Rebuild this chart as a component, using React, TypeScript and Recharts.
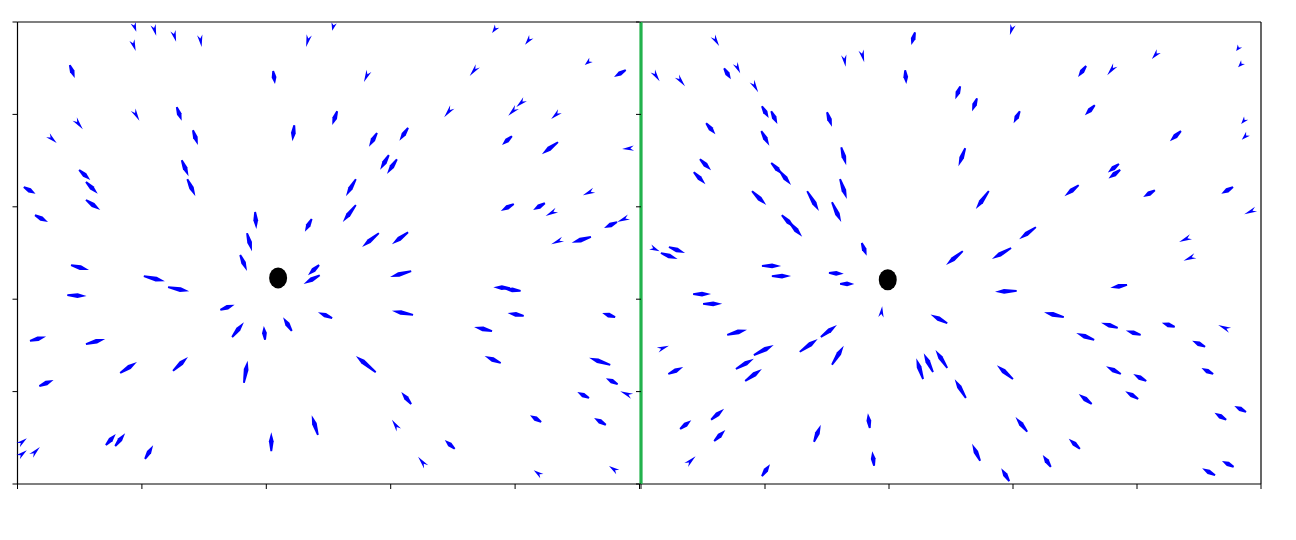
import React from 'react';
import { ScatterChart, Scatter, XAxis, YAxis, ReferenceLine } from 'recharts';

// Axis ticks (labels are blank in the reference)
const X_TICKS = [0, 2, 4, 6, 8, 10];
const Y_TICKS = [0, 2, 4, 6, 8, 10];

// Left panel: quiver arrows [x, y, u, v] (tail position and vector, data units)
const leftArrows: number[][] = [
  [1.86, 9.98, 0.05, -0.19], [1.84, 9.61, 0.06, -0.24], [2.18, 9.94, 0.05, -0.24], [2.5, 9.81, 0.05, -0.24],
  [2.93, 9.72, 0.03, -0.26], [0.84, 9.07, 0.08, -0.28], [1.86, 8.1, 0.1, -0.24], [2.56, 8.16, 0.08, -0.3],
  [0.92, 7.9, 0.13, -0.22], [0.49, 7.55, 0.14, -0.17], [2.82, 7.66, 0.08, -0.32], [2.64, 7.01, 0.11, -0.35],
  [2.73, 6.6, 0.13, -0.37], [0.99, 6.8, 0.18, -0.22], [1.1, 6.54, 0.19, -0.26], [1.1, 6.15, 0.23, -0.22],
  [0.1, 6.43, 0.19, -0.15], [0.28, 5.82, 0.21, -0.15], [0.86, 4.74, 0.29, -0.11], [0.8, 4.09, 0.31, -0.02],
  [2.03, 4.5, 0.34, -0.11], [2.42, 4.26, 0.34, -0.09], [3.26, 3.77, 0.23, 0.11], [0.2, 3.1, 0.26, 0.09],
  [1.1, 3.03, 0.31, 0.11], [1.65, 2.4, 0.27, 0.24], [2.5, 2.45, 0.24, 0.3], [0.35, 2.12, 0.23, 0.13],
  [0.01, 0.84, 0.14, 0.15], [0.01, 0.58, 0.14, 0.15], [0.22, 0.61, 0.14, 0.19], [1.42, 0.84, 0.16, 0.24],
  [1.57, 0.82, 0.16, 0.28], [2.05, 0.54, 0.13, 0.3], [5.09, 9.98, -0.03, -0.17], [4.69, 9.72, -0.05, -0.26],
  [4.11, 8.94, 0.03, -0.28], [5.65, 8.94, -0.08, -0.24], [5.14, 8.07, -0.08, -0.3], [4.45, 7.77, -0.03, -0.35],
  [5.78, 7.6, -0.13, -0.3], [6.28, 7.71, -0.14, -0.28], [5.97, 7.12, -0.14, -0.32], [6.1, 7.03, -0.16, -0.32],
  [5.44, 6.6, -0.16, -0.37], [5.44, 6.04, -0.21, -0.37], [5.81, 5.43, -0.27, -0.3], [6.28, 5.45, -0.26, -0.26],
  [3.82, 5.89, 0.02, -0.37], [4.73, 5.74, -0.11, -0.28], [3.69, 5.43, 0.08, -0.39], [3.58, 4.96, 0.11, -0.35],
  [4.85, 4.74, -0.18, -0.22], [4.86, 4.52, -0.26, -0.19], [6.33, 4.61, -0.34, -0.13], [5.06, 3.59, -0.23, 0.13],
  [6.36, 3.66, -0.34, 0.09], [3.45, 3.18, 0.19, 0.32], [4.41, 3.31, -0.14, 0.3], [3.98, 3.12, -0.02, 0.3],
  [3.64, 2.19, 0.06, 0.48], [5.76, 2.42, -0.32, 0.35], [6.33, 1.73, -0.16, 0.26], [4.83, 1.06, -0.1, 0.43],
  [6.13, 1.17, -0.11, 0.22], [4.08, 0.71, 0, 0.41], [6.57, 0.37, -0.13, 0.22], [7.71, 9.91, -0.08, -0.15],
  [8.26, 9.68, -0.1, -0.17], [7.4, 9.05, -0.13, -0.22], [9.22, 9.18, -0.1, -0.11], [9.78, 8.96, -0.19, -0.15],
  [6.99, 8.16, -0.13, -0.22], [8.16, 8.33, -0.14, -0.17], [8.03, 8.16, -0.14, -0.19], [8.72, 8.07, -0.14, -0.17],
  [7.95, 7.53, -0.16, -0.19], [8.69, 7.4, -0.26, -0.26], [9.91, 7.27, -0.19, -0.02], [9.27, 6.36, -0.18, -0.11],
  [7.98, 6.06, -0.21, -0.15], [8.48, 6.08, -0.19, -0.15], [8.67, 5.93, -0.18, -0.13], [9.64, 5.67, -0.21, -0.13],
  [9.83, 5.78, -0.19, -0.11], [8.77, 5.3, -0.19, -0.11], [9.22, 5.35, -0.31, -0.13], [7.92, 4.24, -0.27, 0.02],
  [8.09, 4.18, -0.27, 0.04], [8.14, 3.64, -0.26, 0.06], [9.61, 3.61, -0.21, 0.09], [7.63, 3.31, -0.29, 0.09],
  [7.77, 2.62, -0.26, 0.15], [9.53, 2.58, -0.34, 0.15], [9.65, 2.16, -0.19, 0.13], [9.88, 1.9, -0.19, 0.11],
  [9.19, 1.86, -0.19, 0.13], [8.42, 1.34, -0.18, 0.15], [9.46, 1.28, -0.19, 0.15], [7.03, 0.76, -0.16, 0.19],
  [8.43, 0.17, -0.13, 0.13], [9.65, 0.26, -0.14, 0.13],
];

// Right panel: quiver arrows [x, y, u, v]
const rightArrows: number[][] = [
  [1.16, 9.7, 0.1, -0.22], [0.19, 8.94, 0.11, -0.22], [0.58, 8.83, 0.13, -0.22], [1.34, 9.0, 0.11, -0.24],
  [1.52, 9.11, 0.08, -0.22], [1.79, 8.72, 0.1, -0.24], [3.27, 9.29, 0.03, -0.26], [1.95, 8.18, 0.11, -0.26],
  [2.1, 8.07, 0.1, -0.28], [3.0, 8.05, 0.08, -0.32], [1.05, 7.81, 0.15, -0.24], [1.94, 7.64, 0.13, -0.32],
  [3.23, 7.29, 0.08, -0.39], [0.95, 7.03, 0.18, -0.24], [0.85, 6.75, 0.19, -0.26], [2.1, 6.95, 0.19, -0.26],
  [2.24, 6.77, 0.18, -0.3], [3.21, 6.6, 0.11, -0.43], [1.79, 6.34, 0.23, -0.3], [2.68, 6.34, 0.19, -0.43],
  [3.08, 6.1, 0.15, -0.43], [2.27, 5.82, 0.21, -0.28], [2.39, 5.67, 0.21, -0.32], [0.15, 5.13, 0.15, -0.09],
  [0.45, 5.13, 0.26, -0.13], [0.32, 5.0, 0.27, -0.13], [1.95, 4.72, 0.31, 0], [2.11, 4.5, 0.31, 0],
  [3.03, 4.57, 0.24, -0.02], [3.21, 4.33, 0.23, 0], [0.84, 4.11, 0.29, 0], [1.0, 3.9, 0.31, 0],
  [1.39, 3.23, 0.32, 0.11], [0.27, 2.9, 0.18, 0.09], [0.44, 2.38, 0.24, 0.15], [1.82, 2.79, 0.32, 0.22],
  [1.53, 2.49, 0.29, 0.22], [1.68, 2.23, 0.27, 0.26], [2.56, 2.86, 0.29, 0.28], [2.9, 3.18, 0.26, 0.26],
  [3.08, 2.58, 0.19, 0.41], [0.63, 1.19, 0.18, 0.19], [1.13, 1.39, 0.21, 0.24], [1.18, 0.93, 0.18, 0.24],
  [0.73, 0.41, 0.15, 0.19], [2.79, 0.91, 0.11, 0.37], [1.95, 0.17, 0.13, 0.26], [6.0, 9.94, -0.05, -0.22],
  [4.42, 9.78, -0.06, -0.28], [3.55, 9.39, 0.05, -0.26], [4.26, 8.96, 0.02, -0.3], [5.15, 8.61, -0.08, -0.28],
  [5.42, 8.35, -0.08, -0.28], [6.11, 8.07, -0.1, -0.26], [5.23, 7.27, -0.11, -0.39], [5.61, 6.34, -0.21, -0.39],
  [6.37, 5.56, -0.27, -0.26], [5.19, 5.04, -0.27, -0.3], [5.97, 5.11, -0.31, -0.24], [3.56, 5.22, 0.08, -0.28],
  [6.06, 4.18, -0.35, -0.02], [6.82, 3.61, -0.32, 0.11], [3.87, 3.61, 0.02, 0.24], [4.94, 3.48, -0.27, 0.19],
  [4.55, 2.27, -0.11, 0.45], [4.71, 2.42, -0.15, 0.41], [4.94, 2.51, -0.19, 0.39], [5.24, 1.86, -0.18, 0.41],
  [6.0, 2.27, -0.26, 0.3], [3.69, 1.21, -0.03, 0.32], [3.76, 0.39, -0.03, 0.32], [5.47, 0.5, -0.13, 0.37],
  [6.23, 1.13, -0.19, 0.32], [5.94, 0.06, -0.13, 0.28], [6.61, 0.37, -0.13, 0.26], [7.18, 9.05, -0.13, -0.24],
  [7.65, 9.07, -0.13, -0.22], [8.35, 9.37, -0.11, -0.17], [9.66, 9.48, -0.06, -0.11], [9.71, 9.13, -0.08, -0.11],
  [7.32, 8.2, -0.16, -0.22], [8.71, 7.64, -0.18, -0.22], [9.76, 7.92, -0.08, -0.13], [9.79, 7.58, -0.1, -0.13],
  [7.71, 6.93, -0.18, -0.19], [7.73, 6.8, -0.19, -0.19], [7.06, 6.47, -0.23, -0.24], [8.29, 6.36, -0.19, -0.15],
  [9.55, 6.43, -0.19, -0.15], [9.92, 5.95, -0.19, -0.11], [8.87, 5.35, -0.19, -0.11], [8.94, 4.94, -0.19, -0.11],
  [7.84, 4.31, -0.27, -0.06], [7.69, 3.38, -0.27, 0.11], [7.31, 3.12, -0.29, 0.15], [8.06, 3.23, -0.24, 0.09],
  [8.61, 3.4, -0.21, 0.09], [9.5, 3.33, -0.19, 0.11], [9.1, 2.97, -0.21, 0.13], [7.74, 2.38, -0.24, 0.17],
  [8.15, 2.23, -0.21, 0.15], [9.23, 2.38, -0.19, 0.13], [7.27, 1.73, -0.21, 0.22], [8.02, 1.84, -0.21, 0.17],
  [9.44, 1.39, -0.19, 0.15], [9.76, 1.56, -0.19, 0.13], [7.08, 0.76, -0.18, 0.22], [9.26, 0.19, -0.21, 0.15],
  [9.56, 0.37, -0.19, 0.13],
];

// Source points (black dots)
const leftSource = [{ x: 4.19, y: 4.46 }];
const rightSource = [{ x: 3.98, y: 4.42 }];

const toRows = (arr: number[][]) => arr.map(([x, y, u, v]) => ({ x, y, u, v }));
const leftData = toRows(leftArrows);
const rightData = toRows(rightArrows);

const CHART_H = 540;
const PLOT_H = 462;
const LEFT_PLOT_W = 622;
const RIGHT_PLOT_W = 620;

const makeArrow = (pxPerX: number, pxPerY: number) => (props: any) => {
  const { cx, cy, payload } = props;
  if (cx == null || cy == null || !payload) return <g />;
  const dx = payload.u * pxPerX;
  const dy = -payload.v * pxPerY;
  const L = Math.hypot(dx, dy);
  if (!L) return <g />;
  const ux = dx / L;
  const uy = dy / L;
  const nx = -uy;
  const ny = ux;
  const pt = (a: number, b: number) => `${(cx + ux * a + nx * b).toFixed(2)},${(cy + uy * a + ny * b).toFixed(2)}`;
  let pts: string[];
  if (L >= 13) {
    const hl = Math.min(L * 0.5, 9);
    pts = [pt(0, -0.9), pt(L - hl, -2.4), pt(L, 0), pt(L - hl, 2.4), pt(0, 0.9)];
  } else {
    pts = [pt(0, -2.7), pt(L, 0), pt(0, 2.7), pt(L * 0.3, 0)];
  }
  return <polygon points={pts.join(' ')} fill="#0000ff" />;
};

const dotShape = (props: any) => {
  const { cx, cy } = props;
  if (cx == null || cy == null) return <g />;
  return <ellipse cx={cx} cy={cy} rx={9} ry={10.5} fill="#000" />;
};

const leftArrowShape = makeArrow(LEFT_PLOT_W / 10, PLOT_H / 10);
const rightArrowShape = makeArrow(RIGHT_PLOT_W / 10, PLOT_H / 10);

const blank = () => '';
const FRAME = '#000';

function Panel(props: { width: number; margin: any; data: any[]; source: any[]; shape: any; side: 'left' | 'right' }) {
  const { width, margin, data, source, shape, side } = props;
  return (
    <ScatterChart width={width} height={CHART_H} margin={margin}>
      <XAxis
        type="number"
        dataKey="x"
        domain={[0, 10]}
        ticks={X_TICKS}
        tickFormatter={blank}
        tickSize={5}
        height={30}
        axisLine={false}
        tickLine={{ stroke: '#000', strokeWidth: 1 }}
        interval={0}
      />
      <YAxis
        type="number"
        dataKey="y"
        domain={[0, 10]}
        ticks={Y_TICKS}
        tickFormatter={blank}
        tickSize={5}
        width={10}
        axisLine={false}
        tickLine={{ stroke: '#000', strokeWidth: 1 }}
        interval={0}
      />
      <ReferenceLine y={0} stroke={FRAME} strokeWidth={1.2} />
      <ReferenceLine y={10} stroke={FRAME} strokeWidth={1.2} />
      {side === 'left' ? <ReferenceLine x={0} stroke={FRAME} strokeWidth={1.2} /> : null}
      {side === 'right' ? <ReferenceLine x={10} stroke={FRAME} strokeWidth={1.2} /> : null}
      {side === 'right' ? <ReferenceLine x={0} stroke="#22b24c" strokeWidth={3.2} /> : null}
      <Scatter data={data} shape={shape} isAnimationActive={false} />
      <Scatter data={source} shape={dotShape} isAnimationActive={false} />
    </ScatterChart>
  );
}

export default function App() {
  return (
    <div style={{ position: 'absolute', left: 0, top: 0, width: 1296, height: 540, background: '#fff' }}>
      <div style={{ position: 'absolute', left: 0, top: 0 }}>
        <Panel
          width={650}
          margin={{ top: 22, right: 10.5, bottom: 26, left: 7.5 }}
          data={leftData}
          source={leftSource}
          shape={leftArrowShape}
          side="left"
        />
      </div>
      <div style={{ position: 'absolute', left: 620, top: 0 }}>
        <Panel
          width={676}
          margin={{ top: 22, right: 35, bottom: 26, left: 11 }}
          data={rightData}
          source={rightSource}
          shape={rightArrowShape}
          side="right"
        />
      </div>
    </div>
  );
}
